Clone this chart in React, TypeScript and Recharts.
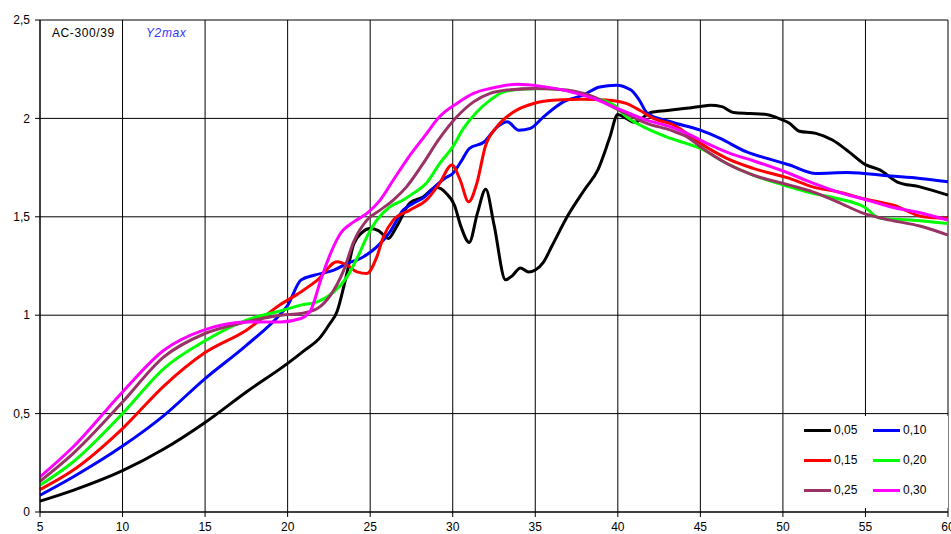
import React from "react";
import {
  LineChart,
  Line,
  XAxis,
  YAxis,
  CartesianGrid,
} from "recharts";

// x ticks and y ticks
const xTicks = [5, 10, 15, 20, 25, 30, 35, 40, 45, 50, 55, 60];
const yTicks = [0, 0.5, 1, 1.5, 2, 2.5];

// 0,05
const x05 = [5, 7, 10, 12.5, 15, 17.5, 20, 21, 22, 22.5, 23, 23.5, 24, 24.5, 25, 25.5, 26.1, 26.6, 27.4, 28.2, 29, 29.6, 30.1, 30.5, 31, 31.5, 32, 32.5, 33.2, 33.6, 34.1, 34.6, 35, 35.5, 36, 37, 38, 38.8, 39.5, 40, 40.5, 41, 42, 43, 44, 45, 45.6, 46.3, 47, 48, 49, 49.6, 50.4, 51, 52, 53, 54, 55, 55.9, 56.9, 58.3, 60];
const y05 = [0.055, 0.11, 0.21, 0.32, 0.455, 0.61, 0.755, 0.82, 0.89, 0.95, 1.02, 1.18, 1.36, 1.42, 1.44, 1.43, 1.39, 1.45, 1.57, 1.6, 1.65, 1.62, 1.56, 1.45, 1.37, 1.52, 1.64, 1.46, 1.18, 1.2, 1.24, 1.22, 1.23, 1.27, 1.35, 1.51, 1.64, 1.74, 1.9, 2.02, 2.0, 1.98, 2.03, 2.04, 2.05, 2.06, 2.067, 2.06, 2.03, 2.025, 2.02, 2.005, 1.975, 1.935, 1.924, 1.89, 1.83, 1.765, 1.737, 1.678, 1.652, 1.61];

// 0,10
const x10 = [5, 7, 10, 12.5, 15, 17.5, 19.5, 20, 20.8, 21.6, 22.8, 23.6, 24.4, 25.4, 26.2, 27, 27.6, 28.2, 29, 29.6, 30, 30.5, 31, 31.9, 32.7, 33.3, 34, 34.7, 35.5, 36.7, 37.9, 38.9, 39.9, 40.8, 41.3, 41.8, 43.2, 45, 46.2, 47.8, 49.4, 50.4, 52, 53.9, 56.5, 58.3, 60];
const y10 = [0.085, 0.178, 0.335, 0.49, 0.678, 0.847, 1.0, 1.05, 1.178, 1.203, 1.229, 1.263, 1.288, 1.347, 1.424, 1.534, 1.568, 1.595, 1.66, 1.7, 1.72, 1.78, 1.847, 1.88, 1.957, 1.983, 1.94, 1.949, 2.008, 2.084, 2.118, 2.16, 2.169, 2.144, 2.093, 2.025, 1.983, 1.94, 1.898, 1.83, 1.788, 1.763, 1.72, 1.725, 1.707, 1.695, 1.678];

// 0,15
const x15 = [5, 7, 10, 12.5, 15, 17.5, 19.5, 20.8, 21.8, 23, 23.6, 24.2, 24.8, 25.4, 25.8, 26.4, 27.4, 28.4, 29.2, 29.95, 30.45, 30.96, 31.46, 31.97, 32.67, 33.68, 34.9, 36.3, 37.9, 39.3, 40.5, 41.35, 42.15, 43.4, 45, 46.6, 48.2, 50.4, 51.8, 53.3, 55.1, 56.7, 58.5, 60];
const y15 = [0.114, 0.212, 0.424, 0.64, 0.81, 0.924, 1.051, 1.118, 1.178, 1.271, 1.254, 1.22, 1.212, 1.296, 1.398, 1.483, 1.534, 1.585, 1.67, 1.763, 1.687, 1.576, 1.67, 1.856, 1.957, 2.033, 2.076, 2.093, 2.097, 2.093, 2.076, 2.04, 2.0, 1.966, 1.873, 1.797, 1.746, 1.695, 1.652, 1.627, 1.588, 1.559, 1.5, 1.492];

// 0,20
const x20 = [5, 7, 10, 12.5, 15, 17.5, 19.7, 20.8, 21.8, 22.8, 23.6, 24.2, 24.8, 25.4, 26.2, 27, 27.6, 28.4, 29.2, 30, 30.65, 31.46, 32.27, 33.1, 34.3, 35.7, 37.3, 38.7, 39.9, 40.5, 41.75, 43.2, 45, 46.6, 48.2, 50.4, 51.8, 53.3, 54.9, 55.9, 57.9, 60];
const y20 = [0.136, 0.254, 0.5, 0.729, 0.87, 0.975, 1.025, 1.051, 1.068, 1.118, 1.195, 1.288, 1.398, 1.483, 1.551, 1.585, 1.619, 1.67, 1.77, 1.855, 1.949, 2.033, 2.093, 2.135, 2.149, 2.152, 2.135, 2.102, 2.059, 2.01, 1.949, 1.898, 1.847, 1.771, 1.712, 1.652, 1.619, 1.593, 1.551, 1.492, 1.483, 1.466];

// 0,25
const x25 = [5, 7, 10, 12.5, 15, 17.5, 19.6, 20.8, 21.8, 22.6, 23.4, 24, 24.8, 25.6, 26.4, 27.2, 28.2, 29.2, 30.25, 31.26, 32.27, 33.3, 35.1, 36.9, 38.5, 39.9, 41.75, 43.2, 44.2, 45, 46.6, 48.2, 50.4, 51.8, 53.3, 54.9, 56.5, 58.3, 60];
const y25 = [0.156, 0.297, 0.559, 0.788, 0.907, 0.966, 1.0, 1.009, 1.034, 1.102, 1.229, 1.373, 1.483, 1.534, 1.585, 1.652, 1.77, 1.898, 2.008, 2.084, 2.127, 2.144, 2.152, 2.144, 2.11, 2.05, 1.975, 1.94, 1.906, 1.856, 1.771, 1.712, 1.661, 1.627, 1.576, 1.517, 1.483, 1.453, 1.407];

// 0,30
const x30 = [5, 7, 10, 12.5, 15, 17.5, 19.6, 20.8, 21.4, 22, 22.6, 23.2, 24, 24.8, 25.6, 26.4, 27.3, 28.3, 29.2, 30.25, 31.26, 32.27, 33.9, 35.3, 36.9, 38.5, 40, 41.75, 43.2, 44.2, 45.4, 46.8, 48.2, 50.4, 51.4, 53.3, 55.1, 56.5, 58.5, 60];
const y30 = [0.178, 0.33, 0.61, 0.822, 0.927, 0.966, 0.966, 0.983, 1.025, 1.178, 1.314, 1.415, 1.474, 1.517, 1.585, 1.687, 1.8, 1.91, 2.008, 2.076, 2.127, 2.152, 2.174, 2.164, 2.14, 2.102, 2.05, 1.991, 1.957, 1.924, 1.873, 1.822, 1.785, 1.72, 1.685, 1.627, 1.585, 1.551, 1.517, 1.483];

const seriesNames = ["0,05", "0,10", "0,15", "0,20", "0,25", "0,30"];
const seriesColors = ["#000000", "#0000ff", "#ff0000", "#00ff00", "#993366", "#ff00ff"];
const seriesX = [x05, x10, x15, x20, x25, x30];
const seriesY = [y05, y10, y15, y20, y25, y30];

const series = seriesNames.map((name, i) => ({
  name,
  color: seriesColors[i],
  data: seriesX[i].map((x, j) => ({ x, y: seriesY[i][j] })),
}));

const font = "'Liberation Sans', Arial, sans-serif";
const fmt = (v: number) => String(v).replace(".", ",");

function LegendBox() {
  return (
    <div
      style={{
        position: "absolute",
        left: 786,
        top: 416,
        width: 162,
        height: 92,
        background: "#fff",
        fontFamily: font,
        fontSize: 12,
        color: "#000",
      }}
    >
      {series.map((s, i) => {
        const col = i % 2;
        const row = Math.floor(i / 2);
        const left = col === 0 ? 18 : 87;
        const top = 14 + row * 30;
        return (
          <div key={s.name} style={{ position: "absolute", left, top: top - 8, height: 16, display: "flex", alignItems: "center" }}>
            <div style={{ width: 27, height: 3, background: s.color }} />
            <span style={{ marginLeft: 3, lineHeight: "16px" }}>{s.name}</span>
          </div>
        );
      })}
    </div>
  );
}

export default function App() {
  return (
    <div style={{ position: "absolute", left: 0, top: 0, width: 951, height: 534, background: "#fff" }}>
      <LineChart width={951} height={534} margin={{ top: 20, right: 3, left: 0, bottom: 0 }}>
        <CartesianGrid stroke="#000" strokeWidth={1} />
        <XAxis
          dataKey="x"
          type="number"
          domain={[5, 60]}
          ticks={xTicks}
          allowDuplicatedCategory={false}
          height={22}
          tickSize={5}
          tickMargin={5}
          stroke="#000"
          tick={{ fontSize: 12, fill: "#000", fontFamily: font }}
          interval={0}
        />
        <YAxis
          type="number"
          domain={[0, 2.5]}
          ticks={yTicks}
          width={40}
          tickSize={5}
          tickMargin={5}
          stroke="#000"
          tickFormatter={fmt}
          tick={{ fontSize: 12, fill: "#000", fontFamily: font }}
          interval={0}
        />
        {series.map((s) => (
          <Line
            key={s.name}
            data={s.data}
            dataKey="y"
            name={s.name}
            type="monotone"
            stroke={s.color}
            strokeWidth={3}
            dot={false}
            isAnimationActive={false}
          />
        ))}
      </LineChart>
      <LegendBox />
      <span style={{ position: "absolute", left: 52, top: 26, fontFamily: font, fontSize: 12, color: "#000", letterSpacing: 0.6 }}>
        AC-300/39
      </span>
      <span style={{ position: "absolute", left: 146, top: 26, fontFamily: font, fontSize: 12, color: "#3333ff", fontStyle: "italic", letterSpacing: 0.6 }}>
        Y2max
      </span>
    </div>
  );
}
